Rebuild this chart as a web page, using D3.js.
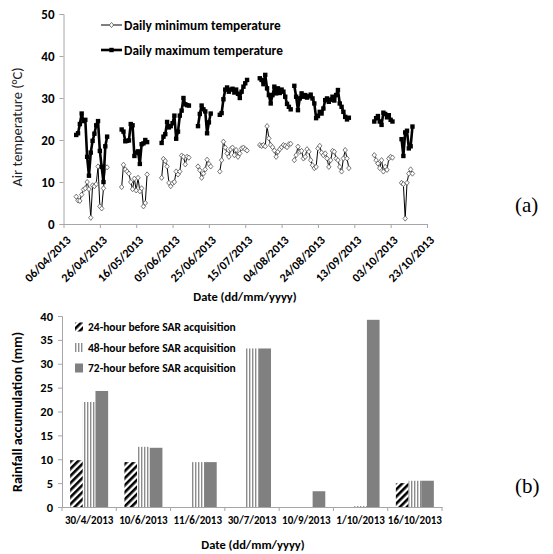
<!DOCTYPE html>
<html>
<head>
<meta charset="utf-8">
<script src="https://cdn.jsdelivr.net/npm/d3@7"></script>
<style>
  body { margin: 0; background: #fff; }
  text { font-family: Carlito, Calibri, Lato, sans-serif; }
</style>
</head>
<body>
<div id="chart"></div>
<script>
// ---- panel (a): daily temperature, one entry per run of consecutive days
var segStart = ["2013-04-13", "2013-05-08", "2013-05-30", "2013-06-19", "2013-07-01",
                "2013-07-23", "2013-08-11", "2013-09-24", "2013-10-09"];
var tMax = [
  [21.2, 21.6, 23.8, 26.3, 24.5, 24.8, 16, 11.5, 17, 19.8, 21.5, 23.5, 24.5, 17.4, 13.6, 10, 18.5, 20.8],
  [22.5, 22, 19.7, 19.8, 19.9, 23.8, 23.5, 16.2, 17, 17.3, 14.3, 19, 19.2, 20, 19.5],
  [19.3, 20.8, 21.4, 24.3, 23, 23.3, 24, 25.8, 20.3, 22, 25.8, 27, 30, 28.5, 28.3, 28.2],
  [23.3, 26.2, 28.2, 27.3, 26.8, 21.6, 24.2, 26.3],
  [26, 26.4, 29.7, 32, 32.5, 31.5, 32, 32.2, 31.3, 32, 31, 30, 31.5, 32.7, 33.5, 34.3],
  [34.7, 34.3, 33.3, 35.5, 32.3, 30.7, 28.7, 30.7, 32.7, 31.1, 32.3, 31.2, 32, 31.5, 30.3, 28.6, 27.9, 27.3],
  [32.9, 30.3, 27.1, 29.9, 31.1, 30.3, 30.7, 30.1, 30.4, 30.8, 29.9, 28.7, 25.2, 25.7, 26.7, 26.3,
   27.5, 29.5, 29.9, 29.1, 29.6, 30.3, 29.4, 30.7, 31.9, 28.7, 27.9, 26.7, 25.5, 24.9, 25.3],
  [24.4, 25.2, 25.7, 24.4, 23.6, 26.5, 26.2, 25.4, 25.9, 24.8, 24.4],
  [20.2, 16.2, 21.8, 22.2, 18, 18.5, 23.2]
];
var tMin = [
  [6.5, 5.6, 5.5, 7, 8.2, 8.5, 10, 8.3, 1.5, 9.2, 9, 9.5, 13.7, 4.2, 3.7, 8.5, 13.5, 13.5],
  [8.8, 14.1, 13, 12.5, 12, 10, 8.3, 10.8, 8, 11, 7.8, 8.5, 4.2, 5, 11.8],
  [11, 15.5, 15, 13.7, 9.8, 9, 9.7, 10, 12.5, 11.8, 12.5, 16.3, 16, 14.2, 16, 15.8],
  [13.7, 12.8, 11, 12, 13, 15.3, 14.3, 13.7],
  [12.5, 15.2, 19.6, 18.2, 16.8, 16, 17.8, 18.2, 16.4, 17.6, 16, 16.8, 18, 18.2, 17.8, 17.5],
  [18.8, 18.6, 18.8, 18.5, 23.3, 20.4, 18.8, 18.3, 17.5, 16, 17.2, 17.8, 18.3, 18.8, 18.6, 18.3, 19, 19.1],
  [15.2, 16.4, 18.4, 17.2, 17.4, 15.6, 16, 17.8, 17.2, 15.2, 14, 13.3, 13.6, 18, 18.6, 17,
   16.4, 16.8, 15.6, 13.6, 15.2, 17.4, 17.2, 15.6, 15.2, 13.6, 12.5, 15.6, 17.6, 15.6, 13.3],
  [16.4, 15.2, 14.4, 13.3, 15.2, 12.5, 13.6, 12.9, 15.6, 16, 15.8],
  [9.8, 9.5, 1.3, 9.8, 12, 13, 12]
];
var tempTicks = [0, 10, 20, 30, 40, 50];

// ---- panel (b): rainfall before SAR acquisitions
var sarDates = ["30/4/2013", "10/6/2013", "11/6/2013", "30/7/2013", "10/9/2013", "1/10/2013", "16/10/2013"];
var rain24 = [9.8, 9.4, 0, 0, 0, 0, 5.0];
var rain48 = [22.0, 12.6, 9.4, 33.2, 0, 0.2, 5.5];
var rain72 = [24.3, 12.4, 9.4, 33.2, 3.3, 39.2, 5.5];
var rainSeries = ["24-hour before SAR acquisition", "48-hour before SAR acquisition", "72-hour before SAR acquisition"];

var parse = d3.timeParse("%Y-%m-%d");
var fmt = d3.timeFormat("%d/%m/%Y");
var grey = "#a6a6a6";

var svg = d3.select("#chart").append("svg")
    .attr("width", 553)
    .attr("height", 554);

var defs = svg.append("defs");
var p1 = defs.append("pattern").attr("id", "diag").attr("patternUnits", "userSpaceOnUse")
    .attr("width", 5).attr("height", 5).attr("patternTransform", "rotate(45)");
p1.append("rect").attr("width", 5).attr("height", 5).attr("fill", "#fff");
p1.append("rect").attr("width", 2.6).attr("height", 5).attr("fill", "#000");
var p2 = defs.append("pattern").attr("id", "vert").attr("patternUnits", "userSpaceOnUse")
    .attr("width", 3).attr("height", 3);
p2.append("rect").attr("width", 3).attr("height", 3).attr("fill", "#fff");
p2.append("rect").attr("width", 1.4).attr("height", 3).attr("fill", "#8c8c8c");
var fills = ["url(#diag)", "url(#vert)", "#808080"];

// ================= panel (a)
var x = d3.scaleTime()
    .domain([parse("2013-04-06"), parse("2013-10-23")])
    .range([63.5, 427]);
var y = d3.scaleLinear().domain([0, 50]).range([224, 14]);

var ga = svg.append("g");

var yAxA = ga.append("g").attr("transform", "translate(63.5,0)")
    .call(d3.axisLeft(y).tickValues(tempTicks).tickSize(4).tickPadding(5));
var xTicks = d3.range(11).map(function(i) { return d3.timeDay.offset(parse("2013-04-06"), i * 20); });
var xAxA = ga.append("g").attr("transform", "translate(0,224)")
    .call(d3.axisBottom(x).tickValues(xTicks).tickFormat(fmt).tickSize(4).tickSizeOuter(0));
xAxA.selectAll("text")
    .attr("text-anchor", "end")
    .attr("x", 0).attr("y", 0)
    .attr("dy", "0.7em")
    .attr("transform", "translate(1.5,11) rotate(-45)");

[yAxA, xAxA].forEach(function(a) {
  a.selectAll("path, line").attr("stroke", grey);
  a.selectAll("text").attr("fill", "#000").attr("font-weight", "bold");
});
yAxA.selectAll("text").attr("font-size", 13);
xAxA.selectAll("text").attr("font-size", 12);

function series(arr) {
  var pts = [];
  arr.forEach(function(vals, s) {
    var d0 = parse(segStart[s]);
    vals.forEach(function(v, i) { pts.push({d: d3.timeDay.offset(d0, i), v: v, s: s}); });
  });
  return pts;
}
var maxPts = series(tMax), minPts = series(tMin);
var line = d3.line()
    .x(function(d) { return x(d.d); })
    .y(function(d) { return y(d.v); });

function drawSegments(arr, stroke, width) {
  arr.forEach(function(vals, s) {
    var d0 = parse(segStart[s]);
    var pts = vals.map(function(v, i) { return {d: d3.timeDay.offset(d0, i), v: v}; });
    ga.append("path").datum(pts)
      .attr("fill", "none").attr("stroke", stroke).attr("stroke-width", width)
      .attr("stroke-linejoin", "round")
      .attr("d", line);
  });
}

drawSegments(tMin, "#000", 1);
ga.selectAll(".mn").data(minPts).enter().append("path")
    .attr("class", "mn")
    .attr("d", "M0,-2.6L2.2,0L0,2.6L-2.2,0Z")
    .attr("transform", function(d) { return "translate(" + x(d.d) + "," + y(d.v) + ")"; })
    .attr("fill", "#fff").attr("stroke", "#555").attr("stroke-width", 0.8);

drawSegments(tMax, "#000", 2.6);
ga.selectAll(".mx").data(maxPts).enter().append("rect")
    .attr("class", "mx")
    .attr("x", function(d) { return x(d.d) - 2.2; })
    .attr("y", function(d) { return y(d.v) - 2.2; })
    .attr("width", 4.4).attr("height", 4.4)
    .attr("fill", "#000");

// legend (a)
var legA = ga.append("g");
legA.append("line").attr("x1", 101).attr("x2", 122).attr("y1", 25).attr("y2", 25)
    .attr("stroke", "#000").attr("stroke-width", 1);
legA.append("path").attr("d", "M0,-2.6L2.2,0L0,2.6L-2.2,0Z").attr("transform", "translate(111.5,25)")
    .attr("fill", "#fff").attr("stroke", "#555").attr("stroke-width", 0.8);
legA.append("text").attr("x", 124).attr("y", 25).attr("dy", "0.35em")
    .attr("font-size", 13.3).attr("font-weight", "bold").text("Daily minimum temperature");
legA.append("line").attr("x1", 101).attr("x2", 122).attr("y1", 50).attr("y2", 50)
    .attr("stroke", "#000").attr("stroke-width", 2.6);
legA.append("rect").attr("x", 109.3).attr("y", 47.8).attr("width", 4.4).attr("height", 4.4).attr("fill", "#000");
legA.append("text").attr("x", 124).attr("y", 50).attr("dy", "0.35em")
    .attr("font-size", 13.3).attr("font-weight", "bold").text("Daily maximum temperature");

ga.append("text")
    .attr("transform", "translate(22,127) rotate(-90)")
    .attr("text-anchor", "middle").attr("font-size", 14.5).attr("fill", "#222")
    .text("Air temperature (°C)");
ga.append("text").attr("x", 245).attr("y", 301).attr("text-anchor", "middle")
    .attr("font-size", 12.5).attr("font-weight", "bold").text("Date (dd/mm/yyyy)");

svg.append("text").attr("x", 515).attr("y", 212)
    .style("font-family", "'Liberation Serif', serif").attr("font-size", 21).text("(a)");

// ================= panel (b)
var xb = d3.scaleBand().domain(sarDates).range([62, 442]).paddingInner(0.3).paddingOuter(0.15);
var xs = d3.scaleBand().domain([0, 1, 2]).range([0, xb.bandwidth()]);
var yb = d3.scaleLinear().domain([0, 40]).range([507, 316]);

var gb = svg.append("g");
var yAxB = gb.append("g").attr("transform", "translate(62,0)")
    .call(d3.axisLeft(yb).ticks(8).tickSize(4).tickPadding(5));
var xAxB = gb.append("g").attr("transform", "translate(0,507)")
    .call(d3.axisBottom(xb).tickSize(0).tickPadding(9).tickSizeOuter(0));
// tick marks between categories, like the original
var step = xb.step();
xAxB.selectAll(".sep").data(d3.range(sarDates.length + 1)).enter().append("line")
    .attr("class", "sep")
    .attr("x1", function(i) { return 62 + i * step; })
    .attr("x2", function(i) { return 62 + i * step; })
    .attr("y1", 0).attr("y2", 4);
[yAxB, xAxB].forEach(function(a) {
  a.selectAll("path, line").attr("stroke", grey);
  a.selectAll("text").attr("fill", "#000").attr("font-weight", "bold");
});
yAxB.selectAll("text").attr("font-size", 12.5);
xAxB.selectAll("text").attr("font-size", 11);

var rainVals = [rain24, rain48, rain72];
rainVals.forEach(function(vals, k) {
  gb.selectAll(".b" + k).data(vals).enter().append("rect")
    .attr("class", "b" + k)
    .attr("x", function(d, i) { return xb(sarDates[i]) + xs(k); })
    .attr("y", function(d) { return yb(d); })
    .attr("width", xs.bandwidth())
    .attr("height", function(d) { return yb(0) - yb(d); })
    .attr("fill", fills[k]);
});

var legB = gb.selectAll(".lb").data(rainSeries).enter().append("g")
    .attr("transform", function(d, i) { return "translate(75," + (327 + i * 20.5) + ")"; });
legB.append("rect").attr("x", 0).attr("y", -4.5).attr("width", 8).attr("height", 9)
    .attr("fill", function(d, i) { return fills[i]; });
legB.append("text").attr("x", 13).attr("dy", "0.35em")
    .attr("font-size", 11.5).attr("font-weight", "bold").text(function(d) { return d; });

gb.append("text")
    .attr("transform", "translate(22,412) rotate(-90)")
    .attr("text-anchor", "middle").attr("font-size", 14).attr("font-weight", "bold")
    .text("Rainfall accumulation  (mm)");
gb.append("text").attr("x", 253).attr("y", 549).attr("text-anchor", "middle")
    .attr("font-size", 12.5).attr("font-weight", "bold").text("Date (dd/mm/yyyy)");

svg.append("text").attr("x", 515).attr("y", 493)
    .style("font-family", "'Liberation Serif', serif").attr("font-size", 21).text("(b)");
</script>
</body>
</html>
